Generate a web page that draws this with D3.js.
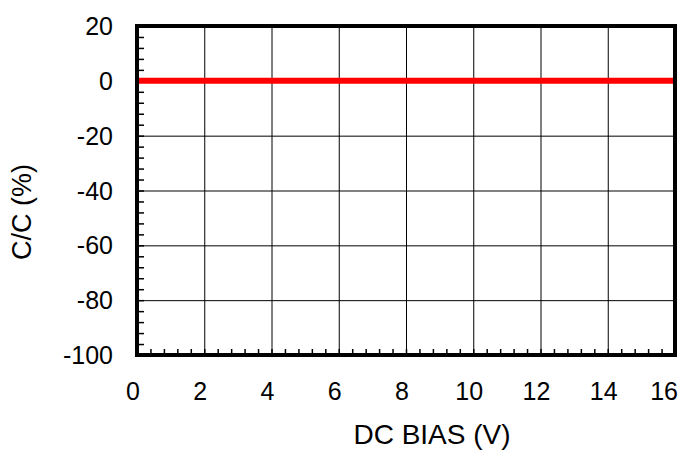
<!DOCTYPE html>
<html>
<head>
<meta charset="utf-8">
<script src="https://cdn.jsdelivr.net/npm/d3@7"></script>
<style>
  body { margin: 0; background: #fff; }
  text { font-family: "Liberation Sans", Arial, sans-serif; }
</style>
</head>
<body>
<div id="chart"></div>
<script>
// data
var biasV = [0, 2, 4, 6, 8, 10, 12, 14, 16];
var capChange = [0, 0, 0, 0, 0, 0, 0, 0, 0];
var xTicks = [0, 2, 4, 6, 8, 10, 12, 14, 16];
var yTicks = [-100, -80, -60, -40, -20, 0, 20];

var svgWidth = 685;
var svgHeight = 452;
var Margin = { top: 26, right: 10, bottom: 97, left: 137 };
var width = svgWidth - Margin.left - Margin.right;
var height = svgHeight - Margin.top - Margin.bottom;

var svg = d3.select("#chart")
  .append("svg")
  .attr("width", svgWidth)
  .attr("height", svgHeight);

var chartGroup = svg.append("g")
  .attr("transform", `translate(${Margin.left}, ${Margin.top})`);

var x = d3.scaleLinear().domain([0, 16]).range([0, width]);
var y = d3.scaleLinear().domain([-100, 20]).range([height, 0]);

// grid lines
chartGroup.append("g")
  .call(d3.axisBottom(x).tickValues(xTicks).tickSize(height).tickFormat(""))
  .call(g => g.select(".domain").remove())
  .selectAll("line").attr("stroke", "#000").attr("stroke-width", 1);

chartGroup.append("g")
  .call(d3.axisRight(y).tickValues(yTicks).tickSize(width).tickFormat(""))
  .call(g => g.select(".domain").remove())
  .selectAll("line").attr("stroke", "#000").attr("stroke-width", 1);

// minor ticks, pointing inward
var xMinor = d3.range(0, 16.001, 0.4);
var yMinor = d3.range(-100, 20.001, 4);

chartGroup.append("g")
  .attr("transform", `translate(0, ${height})`)
  .call(d3.axisTop(x).tickValues(xMinor).tickSize(6).tickFormat(""))
  .call(g => g.select(".domain").remove())
  .selectAll("line").attr("stroke", "#000").attr("stroke-width", 1.5);

chartGroup.append("g")
  .call(d3.axisRight(y).tickValues(yMinor).tickSize(7).tickFormat(""))
  .call(g => g.select(".domain").remove())
  .selectAll("line").attr("stroke", "#000").attr("stroke-width", 1.5);

// the series
var line = d3.line()
  .x((d, i) => x(biasV[i]))
  .y(d => y(d));

chartGroup.append("path")
  .datum(capChange)
  .attr("d", line)
  .attr("fill", "none")
  .attr("stroke", "#ff0000")
  .attr("stroke-width", 6);

// frame
chartGroup.append("rect")
  .attr("x", 0)
  .attr("y", 0)
  .attr("width", width)
  .attr("height", height)
  .attr("fill", "none")
  .attr("stroke", "#000")
  .attr("stroke-width", 4);

// tick labels (plain hyphen for negatives)
var fmt = d => String(d);
var lastX = xTicks[xTicks.length - 1];

chartGroup.append("g")
  .selectAll("text")
  .data(xTicks)
  .enter()
  .append("text")
  .attr("x", d => d === lastX ? x(d) + 3 : x(d) - 4)
  .attr("y", height + 45)
  .attr("text-anchor", d => d === lastX ? "end" : "middle")
  .attr("font-size", "25px")
  .text(fmt);

chartGroup.append("g")
  .selectAll("text")
  .data(yTicks)
  .enter()
  .append("text")
  .attr("x", -24)
  .attr("y", d => y(d) + 9)
  .attr("text-anchor", "end")
  .attr("font-size", "25px")
  .text(fmt);

// axis titles
svg.append("text")
  .attr("x", 432)
  .attr("y", 444)
  .attr("text-anchor", "middle")
  .attr("font-size", "28px")
  .text("DC BIAS (V)");

svg.append("text")
  .attr("transform", "translate(31, 212) rotate(-90)")
  .attr("text-anchor", "middle")
  .attr("font-size", "27px")
  .text("C/C (%)");
</script>
</body>
</html>
